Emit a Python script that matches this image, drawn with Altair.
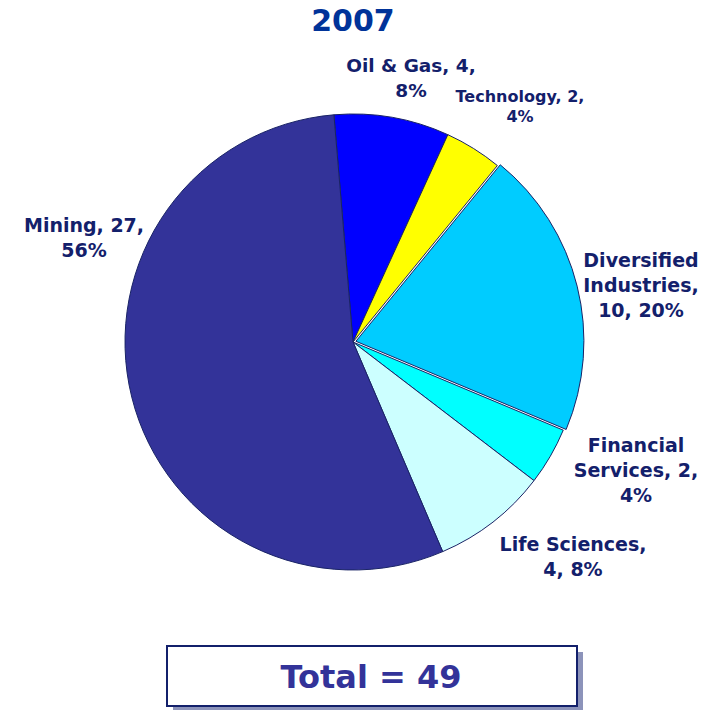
import math
import altair as alt
import pandas as pd

# ---------------- data ----------------
CATEGORIES = ["Oil & Gas", "Technology", "Diversified Industries",
              "Financial Services", "Life Sciences", "Mining"]
COUNTS = [4, 2, 10, 2, 4, 27]
PERCENTS = [8, 4, 20, 4, 8, 56]
LABEL_LINES = [
    ["Oil & Gas, 4,", "8%"],
    ["Technology, 2,", "4%"],
    ["Diversified", "Industries,", "10, 20%"],
    ["Financial", "Services, 2,", "4%"],
    ["Life Sciences,", "4, 8%"],
    ["Mining, 27,", "56%"],
]
TITLE = "2007"
TOTAL = sum(COUNTS)
TOTAL_TEXT = f"Total = {TOTAL}"

# ---------------- style / layout ----------------
COLORS = ["#0000FF", "#FFFF00", "#00CCFF", "#00FFFF", "#CCFFFF", "#333399"]
LABEL_COLOR = "#13206B"
FONT = "DejaVu Sans"
W, H = 701, 704
CX, CY, R = 345, 334, 228
START = math.radians(-4.8)
EXPLODED = "Diversified Industries"
EXPLODE_PX = 3
# label anchor: x centre, first-line baseline, font size, line height
LABEL_LAYOUT = {
    "Oil & Gas": (403, 64, 18.5, 25),
    "Technology": (512, 94, 16, 20),
    "Diversified Industries": (633, 259, 19, 25),
    "Financial Services": (628, 444, 19, 25),
    "Life Sciences": (565, 543, 19, 25),
    "Mining": (76, 224, 19, 25),
}

df = pd.DataFrame({
    "category": CATEGORIES,
    "count": COUNTS,
    "pct": PERCENTS,
    "order": list(range(len(CATEGORIES))),
    "label": ["\n".join(l) for l in LABEL_LINES],
})

theta_scale = alt.Scale(domain=[0, TOTAL], range=[START, START + 2 * math.pi])
color = alt.Color("category:N", scale=alt.Scale(domain=CATEGORIES, range=COLORS), legend=None)

base = alt.Chart(df).transform_stack(
    stack="count", groupby=[], as_=["v0", "v1"],
    sort=[alt.SortField("order", order="ascending")],
)

arc_kw = dict(radius=R, stroke="#1A2466", strokeWidth=1)

pie = base.transform_filter(alt.datum.category != EXPLODED).mark_arc(**arc_kw).encode(
    theta=alt.Theta("v0:Q", scale=theta_scale, stack=None),
    theta2="v1:Q",
    color=color,
    x=alt.value(CX), y=alt.value(CY),
)

# explode offset along the slice's mid angle
idx = CATEGORIES.index(EXPLODED)
mid = START + 2 * math.pi * (sum(COUNTS[:idx]) + COUNTS[idx] / 2) / TOTAL
ex_dx = EXPLODE_PX * math.sin(mid)
ex_dy = -EXPLODE_PX * math.cos(mid)

pie_ex = base.transform_filter(alt.datum.category == EXPLODED).mark_arc(**arc_kw).encode(
    theta=alt.Theta("v0:Q", scale=theta_scale, stack=None),
    theta2="v1:Q",
    color=color,
    x=alt.value(CX + ex_dx), y=alt.value(CY + ex_dy),
)

layers = [pie, pie_ex]

for cat, (lx, ly, fs, lh) in LABEL_LAYOUT.items():
    layers.append(
        alt.Chart(df).transform_filter(alt.datum.category == cat).mark_text(
            font=FONT, fontWeight="bold", fontSize=fs, lineHeight=lh,
            lineBreak="\n", align="center", baseline="alphabetic", color=LABEL_COLOR,
        ).encode(text="label:N", x=alt.value(lx), y=alt.value(ly))
    )

one = pd.DataFrame({"k": [0]})

title = alt.Chart(one).mark_text(
    font=FONT, fontWeight="bold", fontSize=30, color="#003399",
    align="center", baseline="alphabetic",
).encode(text=alt.value(TITLE), x=alt.value(345), y=alt.value(23))

BX0, BY0, BX1, BY1 = 159, 638, 569, 698
shadow = alt.Chart(one).mark_rect(color="#8C93BA").encode(
    x=alt.value(BX0 + 6), x2=alt.value(BX1 + 6), y=alt.value(BY0 + 6), y2=alt.value(BY1 + 6))
box = alt.Chart(one).mark_rect(fill="white", stroke="#13206B", strokeWidth=2).encode(
    x=alt.value(BX0), x2=alt.value(BX1), y=alt.value(BY0), y2=alt.value(BY1))
total = alt.Chart(one).mark_text(
    font=FONT, fontWeight="bold", fontSize=32, color="#333399",
    align="center", baseline="alphabetic",
).encode(text=alt.value(TOTAL_TEXT), x=alt.value(363), y=alt.value(680))

chart = alt.layer(*layers, title, shadow, box, total).properties(
    width=W, height=H,
    autosize=alt.AutoSizeParams(type="none"),
    padding=0,
).configure_view(stroke=None)

chart.save("out.html", embed_options={"renderer": "svg", "actions": False})
